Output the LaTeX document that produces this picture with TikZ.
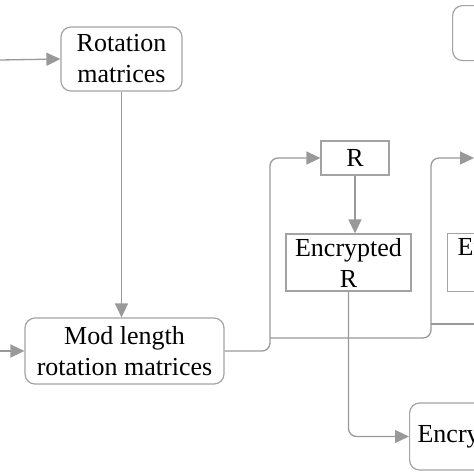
\documentclass[tikz,border=0pt]{standalone}
\usepackage{fontspec}
\setmainfont{Liberation Serif}
\usetikzlibrary{arrows.meta}
\usetikzlibrary{positioning}
\definecolor{linegray}{rgb}{0.60, 0.60, 0.60}
\definecolor{boxgray}{rgb}{0.64, 0.64, 0.64}

\begin{document}
\begin{tikzpicture}[x=1pt, y=-1pt,
		B/.style = {draw=boxgray, line width=1.2pt, align=center, inner sep=0pt,
			font=\fontsize{26}{31}\selectfont},
		RB/.style = {B, rounded corners=10pt},
		conn/.style = {draw=linegray, line width=1.3pt, rounded corners=8pt},
		arr/.style = {conn, -{Triangle[length=14pt,width=13pt]}}
		]
		\useasboundingbox (0,0) rectangle (474,474);
		\clip (0,0) rectangle (474,474);
		\begin{scope}
			\node[RB, minimum width=121pt, minimum height=64pt] (rot) at (121.5,59) {Rotation\\matrices};
			\node[RB, minimum width=199pt, minimum height=66pt] (mod) at (124.5,351) {Mod length\\rotation matrices};
			\node[B, minimum width=68pt, minimum height=34pt] (R) at (355,158) {R};
			\node[B, minimum width=125pt, minimum height=57pt] (encR) at (348.5,262.5) {Encrypted\\R};
			\node[RB, anchor=west, inner xsep=8pt, minimum height=67pt] (encS) at (409,436.5) {Encrypted};
			\node[B, anchor=north west, inner xsep=10pt, text height=22pt, text depth=36pt] (encT) at (447,233) {Encrypted};
			\node[RB, anchor=north west, minimum width=70pt, minimum height=55pt] (top) at (452,5) {};
		\end{scope}
		
		\coordinate (in1) at (0,60);
		\coordinate (in2) at (0,351);
		\coordinate (j1) at (270,351);
		\coordinate (j2) at (270,338);
		\coordinate (j3) at (431,338);
		\coordinate (j4) at (431,324);
		\coordinate (outR) at (474,158);
		\coordinate (outE) at (474,324);
		
		\draw[arr] (in1) -- (rot.west);
		\draw[arr] (in2) -- (mod.west);
		\draw[arr] (rot.south) -- (rot.south |- mod.north);
		\draw[arr] (mod.east) -- (j1) |- (R.west);
		\draw[arr] (j2) -- (j3) |- (outR);
		\draw[conn] (j4) -- (outE);
		\draw[arr] (R.south) -- (R.south |- encR.north);
		\draw[arr] (encR.south) |- (encS.west);
	\end{tikzpicture}
\end{document}
